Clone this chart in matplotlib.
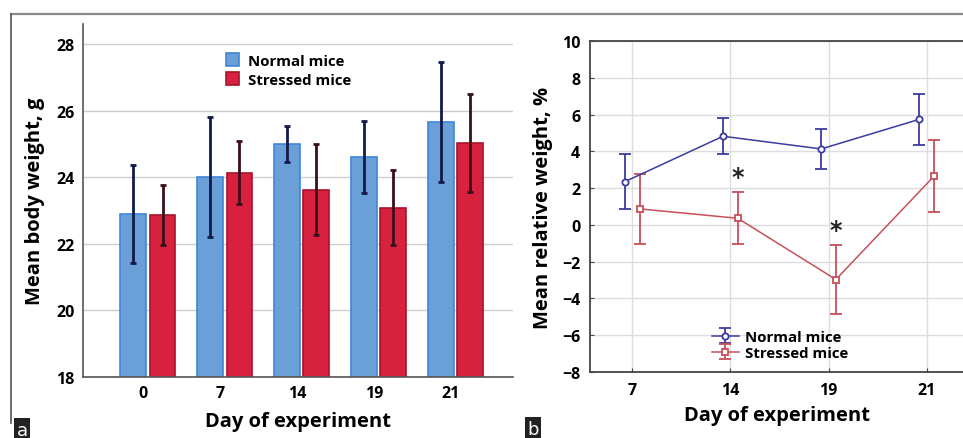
import matplotlib
matplotlib.use("Agg")
import matplotlib.pyplot as plt
import numpy as np
from matplotlib.lines import Line2D

plt.rcParams['font.family'] = ['Open Sans', 'DejaVu Sans']

# ---- Panel a data ----
days_a = ["0", "7", "14", "19", "21"]
normal_weight = [22.9, 24.0, 25.0, 24.6, 25.65]
normal_weight_err = [1.47, 1.8, 0.55, 1.08, 1.8]
stressed_weight = [22.86, 24.14, 23.62, 23.08, 25.04]
stressed_weight_err = [0.9, 0.95, 1.37, 1.13, 1.47]

# ---- Panel b data ----
days_b = ["7", "14", "19", "21"]
normal_rel = [2.35, 4.82, 4.13, 5.74]
normal_rel_err = [1.5, 0.97, 1.07, 1.4]
stressed_rel = [0.87, 0.36, -2.97, 2.65]
stressed_rel_err = [1.9, 1.42, 1.88, 1.96]
star_days = ["14", "19"]

W, H = 963, 439
fig = plt.figure(figsize=(W / 100, H / 100), dpi=100)

def fx(px):
    return px / W

def fy(py):
    return 1 - py / H

# outer frame lines
fig.add_artist(Line2D([fx(11), 1.0], [fy(15), fy(15)], color='#8a8a8a', lw=1.6))
fig.add_artist(Line2D([fx(11), fx(11)], [fy(15), fy(424)], color='#555555', lw=1.2))

TICK_FS = 11.5
LABEL_FS = 14.5
LEG_FS = 10.8

# ---- Panel a ----
ax1 = fig.add_axes([fx(83), fy(378), fx(513) - fx(83), (378 - 25) / H])
x = np.arange(len(days_a))
bw = 0.335
off = 0.19
ax1.bar(x - off, normal_weight, bw, color='#6a9fd8', edgecolor='#3d86d8',
        linewidth=1.2, zorder=2, label='Normal mice')
ax1.bar(x + off, stressed_weight, bw, color='#d8213f', edgecolor='#a8132c',
        linewidth=1.2, zorder=2, label='Stressed mice')
ax1.errorbar(x - off, normal_weight, yerr=normal_weight_err, fmt='none',
             ecolor='#121a4a', elinewidth=2.0, capsize=2.5, capthick=2.0, zorder=3)
ax1.errorbar(x + off, stressed_weight, yerr=stressed_weight_err, fmt='none',
             ecolor='#3a1018', elinewidth=2.0, capsize=2.5, capthick=2.0, zorder=3)
ax1.set_ylim(18, 28.6)
ax1.set_xlim(-0.845, 4.75)
ax1.set_yticks([18, 20, 22, 24, 26, 28])
ax1.set_xticks(x - 0.06)
ax1.set_xticklabels(days_a)
ax1.yaxis.grid(True, color='#cccccc', lw=1.0, zorder=0)
ax1.set_axisbelow(True)
for s in ['top', 'right']:
    ax1.spines[s].set_visible(False)
ax1.spines['left'].set_color('#555555')
ax1.spines['bottom'].set_color('#555555')
ax1.spines['left'].set_linewidth(1.2)
ax1.spines['bottom'].set_linewidth(1.2)
ax1.tick_params(length=0, labelsize=TICK_FS, pad=6)
for t in ax1.get_xticklabels() + ax1.get_yticklabels():
    t.set_fontweight('bold')
ax1.set_ylabel('Mean body weight, g', fontsize=LABEL_FS, fontweight='bold', labelpad=8)
ax1.set_xlabel('Day of experiment', fontsize=LABEL_FS, fontweight='bold', labelpad=7)
leg1 = ax1.legend(loc='upper left', bbox_to_anchor=(0.3, 0.955), frameon=False,
                  prop={'weight': 'bold', 'size': LEG_FS}, handlelength=0.9,
                  handleheight=0.9, handletextpad=0.6, labelspacing=0.3)

# ---- Panel b ----
ax2 = fig.add_axes([fx(590), fy(373), 1.0 - fx(590), (373 - 42) / H])
xb = np.arange(len(days_b))
ob = 0.075
ax2.errorbar(xb - ob, normal_rel, yerr=normal_rel_err, color='#3b3ba0', lw=1.1,
             marker='o', ms=4.5, mfc='white', mec='#3b3ba0', mew=1.3,
             capsize=4, capthick=1.2, elinewidth=1.3, label='Normal mice', zorder=3)
ax2.errorbar(xb + ob, stressed_rel, yerr=stressed_rel_err, color='#c8505a', lw=1.1,
             marker='s', ms=4.5, mfc='white', mec='#c8505a', mew=1.3,
             capsize=4, capthick=1.2, elinewidth=1.3, label='Stressed mice', zorder=3)
for d in star_days:
    i = days_b.index(d)
    top = stressed_rel[i] + stressed_rel_err[i]
    ax2.text(xb[i] + ob, top + 0.15, '*', ha='center', va='bottom',
             fontsize=17, color='#222222', fontfamily='DejaVu Sans', fontweight='bold')
ax2.set_ylim(-8, 10)
ax2.set_xlim(-0.43, 3.37)
ax2.set_yticks(np.arange(-8, 11, 2))
ax2.set_xticks(xb)
ax2.set_xticklabels(days_b)
ax2.grid(True, color='#dddddd', lw=1.0, zorder=0)
ax2.set_axisbelow(True)
ax2.spines['right'].set_visible(False)
for s in ['top', 'left', 'bottom']:
    ax2.spines[s].set_color('#444444')
    ax2.spines[s].set_linewidth(1.3)
ax2.tick_params(length=3, direction='in', color='#444444', labelsize=TICK_FS, pad=7)
for t in ax2.get_xticklabels() + ax2.get_yticklabels():
    t.set_fontweight('bold')
ax2.set_ylabel('Mean relative weight, %', fontsize=LABEL_FS, fontweight='bold', labelpad=6)
ax2.set_xlabel('Day of experiment', fontsize=LABEL_FS, fontweight='bold', labelpad=5)
leg2 = ax2.legend(loc='lower left', bbox_to_anchor=(0.29, -0.005), frameon=False,
                  prop={'weight': 'bold', 'size': LEG_FS}, handlelength=1.8,
                  handletextpad=0.4, labelspacing=0.15)

# panel labels
fig.text(fx(22), fy(431), 'a', ha='center', va='center', color='white', fontsize=13,
         fontfamily='DejaVu Sans',
         bbox=dict(boxstyle='square,pad=0.15', fc='#222222', ec='none'))
fig.text(fx(533), fy(430), 'b', ha='center', va='center', color='white', fontsize=13,
         fontfamily='DejaVu Sans',
         bbox=dict(boxstyle='square,pad=0.15', fc='#222222', ec='none'))

fig.savefig('out.png', dpi=100)
